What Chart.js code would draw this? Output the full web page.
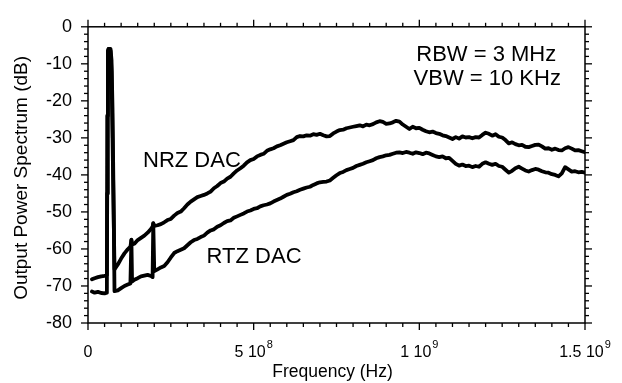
<!DOCTYPE html>
<html><head><meta charset="utf-8">
<script src="https://cdn.jsdelivr.net/npm/chart.js@4.4.1/dist/chart.umd.min.js"></script>
<style>html,body{margin:0;padding:0;background:#fff}canvas{display:block}</style>
</head><body>
<canvas id="c" width="622" height="383"></canvas>
<script>
// ---- data (frequency in MHz, power in dB) ----
const freqMHz = [
  12,20,30,40,50,57,58,60,62,65,68,71,74,77,80,90,100,110,120,128,131,133,140,150,160,170,180,190,195,197,200,
  210,220,230,240,250,260,270,280,290,300,
  310,320,330,340,350,360,370,380,390,400,
  410,420,430,440,450,460,470,480,490,500,
  510,520,530,540,550,560,570,580,590,600,
  610,620,630,640,650,660,670,680,690,700,
  710,720,730,740,750,760,770,780,790,800,
  810,820,830,840,850,860,870,880,890,900,
  910,920,930,940,950,960,970,980,990,1000,
  1010,1020,1030,1040,1050,1060,1070,1080,1090,1100,
  1110,1120,1130,1140,1150,1160,1170,1180,1190,1200,
  1210,1220,1230,1240,1250,1260,1270,1280,1290,1300,
  1310,1320,1330,1340,1350,1360,1370,1380,1390,1400,
  1410,1420,1430,1440,1450,1460,1470,1480,1490,1500
];
const nrzDb = [
  -68.2,-67.9,-67.6,-67.4,-67.3,-67.0,-45,-7,-6,-6,-6.5,-12,-30,-48,-65.5,-64.2,-62.6,-61.2,-60.1,-59.4,-57.6,-58.8,-58.6,-57.6,-57.0,-56.4,-55.6,-54.6,-54.0,-53.1,-53.8,
  -53.6,-53.3,-52.8,-52.2,-51.9,-51.0,-50.3,-49.9,-49.0,-48.0,
  -47.2,-46.6,-46.0,-45.7,-45.4,-45.0,-44.5,-43.6,-43.0,-42.2,
  -41.8,-41.0,-40.5,-39.6,-38.8,-38.2,-37.5,-36.6,-36.0,-35.7,
  -35.0,-34.6,-34.3,-33.5,-33.1,-32.8,-32.3,-32.0,-31.6,-31.2,
  -30.9,-30.6,-29.8,-29.5,-29.6,-29.3,-29.4,-29.0,-29.2,-28.9,
  -29.3,-29.6,-29.5,-28.8,-28.3,-27.9,-27.8,-27.4,-27.2,-27.0,
  -26.8,-26.6,-26.9,-26.4,-26.6,-26.3,-25.8,-25.5,-25.7,-26.2,
  -26.1,-25.8,-25.4,-25.6,-26.4,-27.0,-27.6,-27.0,-27.4,-27.3,
  -27.8,-28.2,-28.5,-28.3,-28.7,-28.9,-29.3,-29.5,-29.9,-30.3,
  -29.8,-30.2,-29.6,-29.9,-29.8,-30.1,-29.8,-29.9,-29.2,-28.6,
  -28.9,-29.4,-29.0,-29.7,-29.9,-30.6,-31.5,-31.2,-31.7,-32.0,
  -31.9,-32.4,-32.5,-32.2,-31.9,-31.8,-32.3,-32.9,-32.8,-33.2,
  -32.9,-33.3,-33.4,-32.8,-32.5,-32.9,-33.4,-33.3,-33.6,-33.9
];
const rtzDb = [
  -71.5,-71.8,-71.6,-71.9,-72.0,-71.8,-24,-6.5,-6,-6,-6,-9,-22,-45,-71.4,-71.2,-70.6,-70.0,-69.6,-69.3,-57.5,-68.8,-68.3,-67.9,-67.4,-67.2,-67.0,-67.3,-67.6,-53.0,-66.0,
  -65.5,-65.0,-64.6,-63.6,-62.3,-61.1,-60.6,-60.2,-59.8,-59.0,
  -58.2,-57.6,-57.3,-56.8,-56.4,-55.6,-55.0,-54.7,-54.0,-53.6,
  -53.0,-52.5,-52.3,-51.6,-51.2,-50.8,-50.4,-49.9,-49.6,-49.2,
  -49.0,-48.5,-48.2,-48.0,-47.7,-47.2,-46.8,-46.4,-45.9,-45.4,
  -45.1,-44.7,-44.4,-44.0,-43.7,-43.4,-43.2,-42.7,-42.3,-42.0,
  -41.9,-41.8,-41.5,-40.8,-40.1,-39.5,-39.2,-38.7,-38.4,-38.1,
  -37.6,-37.3,-37.0,-36.6,-36.3,-36.0,-35.5,-35.2,-35.0,-34.7,
  -34.6,-34.3,-34.0,-33.9,-34.1,-33.8,-34.0,-34.3,-33.9,-34.1,
  -34.4,-34.0,-34.2,-34.6,-35.0,-35.2,-35.0,-35.5,-35.4,-36.2,
  -37.0,-37.5,-37.2,-37.6,-37.5,-37.9,-37.6,-37.8,-37.0,-36.6,
  -37.0,-37.3,-37.0,-37.6,-37.8,-38.6,-39.4,-38.9,-38.2,-37.8,
  -38.3,-38.8,-39.1,-38.7,-38.4,-38.6,-39.0,-39.3,-39.4,-39.8,
  -40.0,-40.4,-39.6,-37.9,-38.5,-39.1,-39.0,-39.3,-39.2,-39.4
];
const xTickValues = [0, 5e8, 1e9, 1.5e9];
const xTickBase = ['0', '5 10', '1 10', '1.5 10'];
const xTickExp = ['', '8', '9', '9'];
const yTickValues = [0, -10, -20, -30, -40, -50, -60, -70, -80];
const noteTexts = ['NRZ DAC', 'RTZ DAC', 'RBW = 3 MHz', 'VBW = 10 KHz'];
const noteFreqMHz = [166, 358, 1202, 1205];
const noteDb = [-36.1, -62.2, -7.6, -14.2];

// ---- drawing ----
const FAM = "'Liberation Sans', Arial, Helvetica, sans-serif";
const noteAlign = ['left', 'left', 'center', 'center'];
const pts = ys => freqMHz.map((f, i) => ({x: f * 1e6, y: ys[i]}));

const framePlugin = {
  id: 'frame',
  afterDraw(chart) {
    const {ctx, chartArea: a, scales: {x, y}} = chart;
    ctx.save();
    ctx.strokeStyle = '#000';
    ctx.fillStyle = '#000';
    ctx.lineWidth = 1.5;
    ctx.strokeRect(a.left, a.top, a.right - a.left, a.bottom - a.top);
    const seg = (x1, y1, x2, y2) => { ctx.beginPath(); ctx.moveTo(x1, y1); ctx.lineTo(x2, y2); ctx.stroke(); };
    ctx.lineWidth = 1.3;
    for (let k = 0; k <= 30; k++) {
      const px = x.getPixelForValue(k * 5e7);
      const L = (k % 10 === 0) ? 7 : 4;
      seg(px, a.bottom, px, a.bottom + L);
      seg(px, a.top, px, a.top - L);
    }
    for (let k = 0; k <= 40; k++) {
      const py = y.getPixelForValue(-80 + k * 2);
      const L = (k % 5 === 0) ? 7 : 4;
      seg(a.left, py, a.left - L, py);
      seg(a.right, py, a.right + L, py);
    }
    // x tick labels with superscript exponent
    ctx.textBaseline = 'middle';
    ctx.textAlign = 'left';
    xTickValues.forEach((v, i) => {
      const px = x.getPixelForValue(v);
      ctx.font = '16px ' + FAM;
      const wb = ctx.measureText(xTickBase[i]).width;
      ctx.font = '11px ' + FAM;
      const we = xTickExp[i] ? ctx.measureText(xTickExp[i]).width + 1 : 0;
      const x0 = px - (wb + we) / 2;
      ctx.font = '16px ' + FAM;
      ctx.fillText(xTickBase[i], x0, a.bottom + 30);
      if (xTickExp[i]) {
        ctx.font = '11px ' + FAM;
        ctx.fillText(xTickExp[i], x0 + wb + 1, a.bottom + 22);
      }
    });
    // axis titles
    ctx.textAlign = 'center';
    ctx.font = '17.5px ' + FAM;
    ctx.fillText('Frequency (Hz)', (a.left + a.right) / 2 - 4, a.bottom + 49);
    ctx.save();
    ctx.translate(22, (a.top + a.bottom) / 2 + 3);
    ctx.rotate(-Math.PI / 2);
    ctx.font = '19px ' + FAM;
    ctx.fillText('Output Power Spectrum (dB)', 0, 0);
    ctx.restore();
    // annotations
    ctx.font = '22px ' + FAM;
    noteTexts.forEach((t, i) => {
      ctx.textAlign = noteAlign[i];
      ctx.fillText(t, x.getPixelForValue(noteFreqMHz[i] * 1e6), y.getPixelForValue(noteDb[i]));
    });
    ctx.restore();
  }
};

const lineStyle = {borderColor: '#000', borderWidth: 3.8, pointRadius: 0, tension: 0,
  borderJoinStyle: 'round', borderCapStyle: 'round', fill: false};

new Chart(document.getElementById('c'), {
  type: 'line',
  data: {
    datasets: [
      Object.assign({label: 'NRZ DAC', data: pts(nrzDb)}, lineStyle),
      Object.assign({label: 'RTZ DAC', data: pts(rtzDb)}, lineStyle)
    ]
  },
  options: {
    responsive: false,
    animation: false,
    devicePixelRatio: 1,
    layout: {padding: {top: 18, right: 37, bottom: 60, left: 0}},
    plugins: {legend: {display: false}, tooltip: {enabled: false}},
    scales: {
      x: {
        type: 'linear', min: 0, max: 1.5e9,
        ticks: {display: false},
        grid: {display: false, drawTicks: false},
        border: {display: false},
        title: {display: false}
      },
      y: {
        type: 'linear', min: -80, max: 0,
        afterBuildTicks: s => { s.ticks = yTickValues.map(v => ({value: v})); },
        ticks: {font: {size: 18, family: FAM}, color: '#000', padding: 16},
        grid: {display: false, drawTicks: false},
        border: {display: false},
        afterFit: s => { s.width = 88; }
      }
    }
  },
  plugins: [framePlugin]
});
</script>
</body></html>
